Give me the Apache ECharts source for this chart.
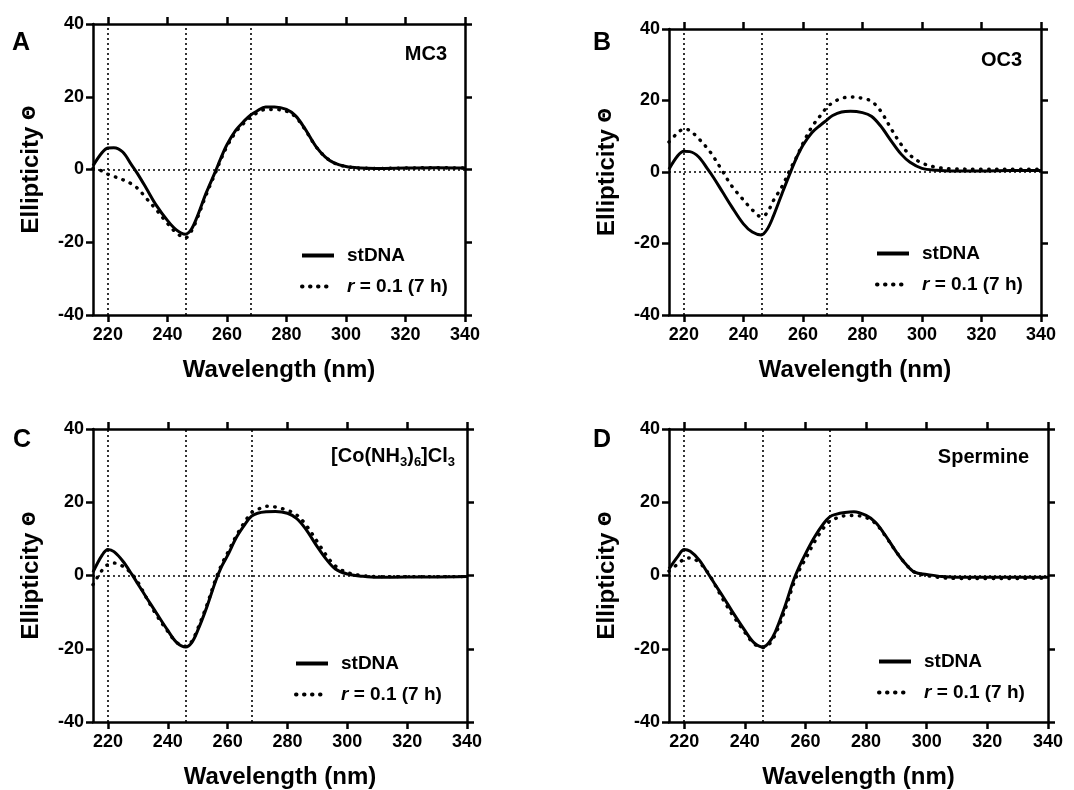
<!DOCTYPE html>
<html>
<head>
<meta charset="utf-8">
<script src="https://cdn.jsdelivr.net/npm/echarts@6/dist/echarts.min.js"></script>
<style>
html,body{margin:0;padding:0;background:#fff;}
#chart{width:1074px;height:790px;}
</style>
</head>
<body>
<div id="chart"></div>
<script>
// ---------- data ----------
const wavelengths = [215,218,220,222,225,228,230,233,236,240,243,246,248,250,253,256,258,260,263,266,268,270,273,276,280,283,286,290,293,296,300,305,310,320,330,340];

const mc3_stDNA = [1.0,4.6,5.9,6.0,4.8,1.2,-1.2,-5.3,-9.5,-14,-16.6,-17.8,-16.5,-13,-6.5,-0.8,3.2,6.8,10.8,13.5,15,16,17.2,17.2,16.5,14.8,11.5,6.2,3.5,1.8,0.8,0.4,0.3,0.4,0.5,0.4];
const mc3_r01   = [0.3,-0.4,-1.3,-1.9,-2.8,-4,-5.2,-8,-10.8,-14.8,-17.4,-18.8,-17,-13.5,-7,-1.2,2.8,6.3,10.3,13,14.5,15.5,16.5,16.5,16,14.5,11.3,6.2,3.5,1.8,0.8,0.4,0.3,0.4,0.5,0.4];

const oc3_stDNA = [0.8,4.6,5.8,5.7,4.2,0.8,-1.6,-5.6,-9.6,-14.5,-16.8,-17.6,-16,-12.5,-6,0.3,4.2,7.5,11,13.2,14.5,15.8,16.8,17,16.6,15.6,13,8.3,5,2.7,1.0,0.5,0.3,0.3,0.4,0.4];
const oc3_r01   = [8.4,11,12,11.6,9.3,6.5,4.2,0.2,-3.8,-7.8,-10.6,-12.5,-11.4,-8.1,-4,1.2,4.4,8,12.6,15.9,18,19.4,20.6,21,20.6,19.8,17.2,11.6,7.7,4.7,2.5,1.3,0.9,0.8,0.8,0.8];

const co_stDNA  = [0.9,5.5,7.1,6.5,3.9,0.3,-2.3,-6.2,-10,-15,-18.3,-19.5,-18.3,-15,-8.7,-1.5,2.5,5.5,10.5,14.2,16.2,17,17.4,17.5,17,15.6,12.8,7.8,4.4,1.8,0.4,-0.2,-0.5,-0.4,-0.4,-0.3];
const co_r01    = [-2.5,1.4,3.0,3.4,2.5,0.4,-1.8,-6.3,-10.5,-15.3,-18.3,-19.3,-18,-14.5,-8.2,-1,3,6.2,11,15,17.2,18,18.9,18.7,17.8,16.6,14,9.2,5.5,2.6,0.8,0,-0.3,-0.3,-0.3,-0.3];

const spermine_stDNA = [1.8,5.3,7.1,6.6,4.2,0.4,-2.2,-6,-10,-15,-18.3,-19.5,-18.3,-15.5,-9,-1.5,2.5,5.9,10.5,14.2,16,16.7,17.2,17.4,16.4,14.6,11.4,6.4,3.2,0.9,0.3,-0.3,-0.5,-0.5,-0.5,-0.5];
const spermine_r01   = [1.2,3.2,4.5,4.8,3.5,0.6,-2.3,-6.8,-10.8,-15.5,-18.6,-19.7,-18.8,-16.2,-10,-2.5,1.5,4.5,9.2,13,14.8,15.6,16.3,16.4,15.8,14.3,11.2,6.4,3.2,0.9,0,-0.6,-0.8,-0.8,-0.8,-0.7];

const xTicks = [220,240,260,280,300,320,340];
const yTicks = [-40,-20,0,20,40];
const refLinesX = [220,246,268];
const refLineY = 0;

const panelLetters = ['A','B','C','D'];
const panelTitles = ['MC3','OC3','[Co(NH{s|3}){s|6}]Cl{s|3}','Spermine'];
const legendLabels = ['stDNA','r = 0.1 (7 h)'];
const xName = 'Wavelength (nm)';
const yName = 'Ellipticity {t|Θ}';

const panelData = [[mc3_stDNA,mc3_r01],[oc3_stDNA,oc3_r01],[co_stDNA,co_r01],[spermine_stDNA,spermine_r01]];

// ---------- layout ----------
const FONT = '"Liberation Sans", Arial, Helvetica, sans-serif';
const grids = [
  {left:93, top:24, width:372, height:291},
  {left:669, top:29, width:372, height:286},
  {left:93, top:429, width:374, height:293},
  {left:669, top:429, width:379, height:293}
];
const legendPos = [
  {left:300, top:245},
  {left:875, top:243},
  {left:294, top:653},
  {left:877, top:651}
];
const letterPos = [{left:12,top:31},{left:593,top:31},{left:13,top:428},{left:593,top:428}];
const titlePos = [{right:627,top:41},{right:52,top:47},{right:619,top:443},{right:45,top:444}];

const axisLine = {show:true, onZero:false, lineStyle:{color:'#000', width:2.5}};
const tickStyle = {color:'#000', width:2.5};
const labelStyle = {color:'#000', fontSize:18, fontWeight:'bold', fontFamily:FONT};

const xAxes = [], yAxes = [], series = [], legends = [], titles = [];

grids.forEach((g, p) => {
  xAxes.push({
    gridIndex:p, type:'value', min:215, max:340, position:'bottom',
    axisLine, splitLine:{show:false},
    axisTick:{show:true, length:7, lineStyle:tickStyle, customValues:xTicks},
    axisLabel:Object.assign({customValues:xTicks, margin:11}, labelStyle),
    name:xName, nameLocation:'middle', nameGap:43,
    nameTextStyle:{color:'#000', fontSize:24, fontWeight:'bold', fontFamily:FONT}
  });
  xAxes.push({
    gridIndex:p, type:'value', min:215, max:340, position:'top',
    axisLine, splitLine:{show:false},
    axisTick:{show:true, length:7, lineStyle:tickStyle, customValues:xTicks},
    axisLabel:{show:false}
  });
  yAxes.push({
    gridIndex:p, type:'value', min:-40, max:40, interval:20, position:'left',
    axisLine, splitLine:{show:false},
    axisTick:{show:true, length:7, lineStyle:tickStyle, customValues:yTicks},
    axisLabel:Object.assign({customValues:yTicks, margin:9}, labelStyle),
    name:yName, nameLocation:'middle', nameRotate:90, nameGap:50,
    nameTextStyle:{color:'#000', fontSize:24, fontWeight:'bold', fontFamily:FONT,
      rich:{t:{fontSize:17, fontWeight:'bold', fontFamily:'"DejaVu Sans", sans-serif', color:'#000'}}}
  });
  yAxes.push({
    gridIndex:p, type:'value', min:-40, max:40, interval:20, position:'right',
    axisLine, splitLine:{show:false},
    axisTick:{show:true, length:7, lineStyle:tickStyle, customValues:yTicks},
    axisLabel:{show:false}
  });

  const [solid, dotted] = panelData[p];
  const n1 = 'stDNA#' + p, n2 = 'r#' + p;
  series.push({
    name:n1, type:'line', xAxisIndex:p*2, yAxisIndex:p*2, smooth:0.35, symbol:'none',
    color:'#000',
    lineStyle:{color:'#000', width:3},
    data: wavelengths.map((w,i)=>[w, solid[i]]),
    z:3,
    markLine:{
      silent:true, symbol:'none', animation:false,
      label:{show:false},
      lineStyle:{color:'#000', width:1.6, type:[2,3]},
      emphasis:{disabled:true},
      data: refLinesX.map(x=>({xAxis:x})).concat([{yAxis:refLineY}])
    }
  });
  series.push({
    name:n2, type:'line', xAxisIndex:p*2, yAxisIndex:p*2, smooth:0.35, symbol:'none',
    color:'#000',
    lineStyle:{color:'#000', width:3.4, type:[0.5,7.5], cap:'round'},
    data: wavelengths.map((w,i)=>[w, dotted[i]]),
    z:3
  });

  legends.push({
    orient:'vertical', left:legendPos[p].left, top:legendPos[p].top, padding:0,
    data:[n1, n2], itemWidth:32, itemHeight:14, itemGap:10, selectedMode:false,
    itemStyle:{opacity:0, color:'transparent', borderWidth:0},
    lineStyle:{width:4},
    formatter: name => name.startsWith('stDNA') ? '{n|' + legendLabels[0] + '}' :
      '{i|' + legendLabels[1].slice(0,1) + '}{m|' + legendLabels[1].slice(1) + '}',
    textStyle:{color:'#000', fontSize:19, fontWeight:'bold', fontFamily:FONT, lineHeight:21,
      rich:{
        n:{fontSize:19, fontWeight:'bold', fontFamily:FONT, color:'#000', padding:[0,0,0,8], lineHeight:21},
        i:{fontSize:19, fontWeight:'bold', fontStyle:'italic', fontFamily:FONT, color:'#000', padding:[0,0,0,8], lineHeight:21},
        m:{fontSize:19, fontWeight:'bold', fontFamily:FONT, color:'#000', lineHeight:21}
      }}
  });

  titles.push({
    text:panelLetters[p], left:letterPos[p].left, top:letterPos[p].top, padding:0,
    textStyle:{color:'#000', fontSize:25, fontWeight:'bold', fontFamily:FONT}
  });
  titles.push({
    text:panelTitles[p], right:titlePos[p].right, top:titlePos[p].top, padding:0,
    textStyle:{color:'#000', fontSize:20, fontWeight:'bold', fontFamily:FONT, lineHeight:26,
      rich:{s:{fontSize:13, fontWeight:'bold', fontFamily:FONT, color:'#000', verticalAlign:'bottom', lineHeight:14}}}
  });
});

const chart = echarts.init(document.getElementById('chart'), null, {renderer:'canvas'});
chart.setOption({
  animation:false,
  backgroundColor:'#fff',
  title:titles,
  legend:legends,
  grid:grids,
  xAxis:xAxes,
  yAxis:yAxes,
  series
});
</script>
</body>
</html>
